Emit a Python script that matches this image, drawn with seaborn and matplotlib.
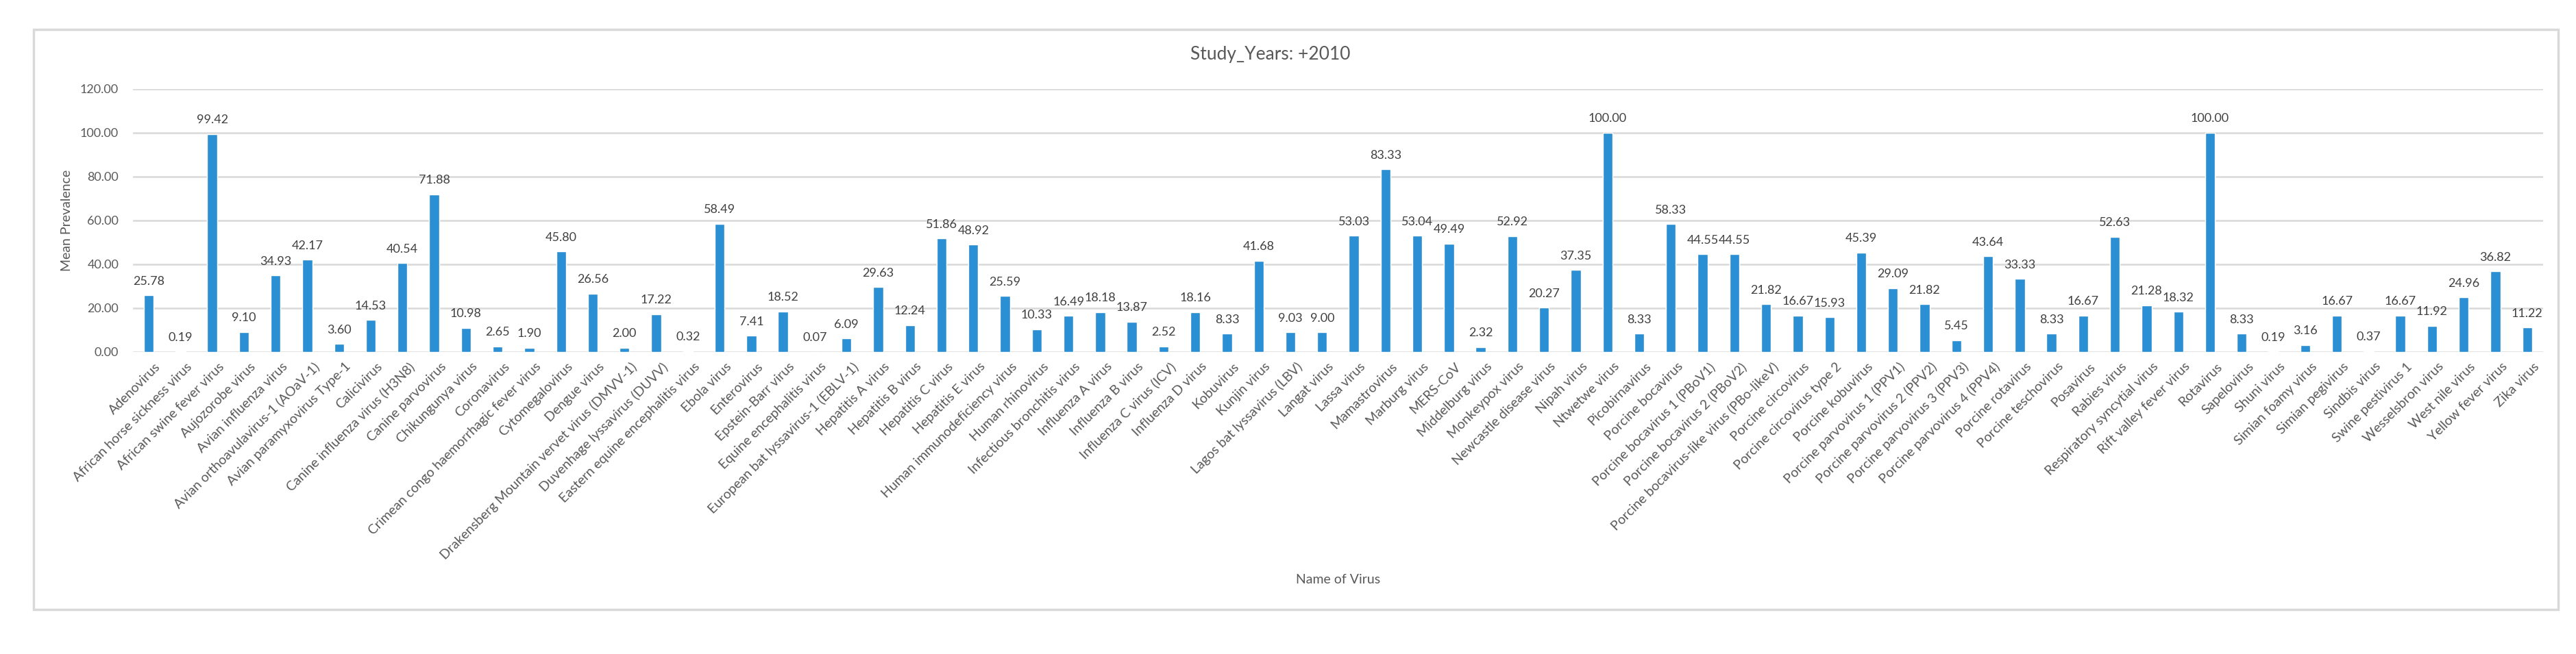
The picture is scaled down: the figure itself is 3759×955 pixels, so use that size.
import matplotlib
matplotlib.use("Agg")
import matplotlib.pyplot as plt
import matplotlib.transforms as mtrans
import seaborn as sns
import pandas as pd
from matplotlib.patches import Rectangle

viruses = [
    "Adenovirus", "African horse sickness virus", "African swine fever virus",
    "Aujozorobe virus", "Avian influenza virus", "Avian orthoavulavirus-1 (AOaV-1)",
    "Avian paramyxovirus Type-1", "Calicivirus", "Canine influenza virus (H3N8)",
    "Canine parvovirus", "Chikungunya virus", "Coronavirus",
    "Crimean congo haemorrhagic fever virus", "Cytomegalovirus", "Dengue virus",
    "Drakensberg Mountain vervet virus (DMVV-1)", "Duvenhage lyssavirus (DUVV)",
    "Eastern equine encephalitis virus", "Ebola virus", "Enterovirus",
    "Epstein-Barr virus", "Equine encephalitis virus",
    "European bat lyssavirus-1 (EBLV-1)", "Hepatitis A virus", "Hepatitis B virus",
    "Hepatitis C virus", "Hepatitis E virus", "Human immunodeficiency virus",
    "Human rhinovirus", "Infectious bronchitis virus", "Influenza A virus",
    "Influenza B virus", "Influenza C virus (ICV)", "Influenza D virus", "Kobuvirus",
    "Kunjin virus", "Lagos bat lyssavirus (LBV)", "Langat virus", "Lassa virus",
    "Mamastrovirus", "Marburg virus", "MERS-CoV", "Middelburg virus",
    "Monkeypox virus", "Newcastle disease virus", "Nipah virus", "Ntwetwe virus",
    "Picobirnavirus", "Porcine bocavirus", "Porcine bocavirus 1 (PBoV1)",
    "Porcine bocavirus 2 (PBoV2)", "Porcine bocavirus-like virus (PBo-likeV)",
    "Porcine circovirus", "Porcine circovirus type 2", "Porcine kobuvirus",
    "Porcine parvovirus 1 (PPV1)", "Porcine parvovirus 2 (PPV2)",
    "Porcine parvovirus 3 (PPV3)", "Porcine parvovirus 4 (PPV4)",
    "Porcine rotavirus", "Porcine teschovirus", "Posavirus", "Rabies virus",
    "Respiratory syncytial virus", "Rift valley fever virus", "Rotavirus",
    "Sapelovirus", "Shuni virus", "Simian foamy virus", "Simian pegivirus",
    "Sindbis virus", "Swine pestivirus 1", "Wesselsbron virus", "West nile virus",
    "Yellow fever virus", "Zika virus",
]

prevalence = [
    25.78, 0.19, 99.42, 9.10, 34.93, 42.17, 3.60, 14.53, 40.54, 71.88,
    10.98, 2.65, 1.90, 45.80, 26.56, 2.00, 17.22, 0.32, 58.49, 7.41,
    18.52, 0.07, 6.09, 29.63, 12.24, 51.86, 48.92, 25.59, 10.33, 16.49,
    18.18, 13.87, 2.52, 18.16, 8.33, 41.68, 9.03, 9.00, 53.03, 83.33,
    53.04, 49.49, 2.32, 52.92, 20.27, 37.35, 100.00, 8.33, 58.33, 44.55,
    44.55, 21.82, 16.67, 15.93, 45.39, 29.09, 21.82, 5.45, 43.64, 33.33,
    8.33, 16.67, 52.63, 21.28, 18.32, 100.00, 8.33, 0.19, 3.16, 16.67,
    0.37, 16.67, 11.92, 24.96, 36.82, 11.22,
]

y_ticks = [0, 20, 40, 60, 80, 100, 120]

sns.set_style("white")
plt.rcParams["font.family"] = ["Lato", "DejaVu Sans"]

df = pd.DataFrame({"virus": viruses, "prev": prevalence})

fig = plt.figure(figsize=(37.59, 9.55), dpi=100)
ax = fig.add_axes([0.0516, 0.4618, 0.9356, 0.4021])

sns.barplot(data=df, x="virus", y="prev", color="#2B8FD3", width=0.31,
            saturation=1, ax=ax)

ax.set_ylim(0, 120)
ax.set_yticks(y_ticks)
ax.set_yticklabels([f"{t:.2f}" for t in y_ticks])
ax.yaxis.grid(True, color="#D9D9D9", linewidth=1.8)
ax.set_axisbelow(True)
for s in ax.spines.values():
    s.set_visible(False)

ax.tick_params(axis="y", length=0, pad=15, labelsize=13, labelcolor="#595959")
ax.tick_params(axis="x", length=0, pad=9, labelsize=14, labelcolor="#595959")
# rotated names, nudged a little right so they end under the bar like Excel does
shift = mtrans.ScaledTranslation(6 / 72, 0, fig.dpi_scale_trans)
for lab in ax.get_xticklabels():
    lab.set_rotation(45)
    lab.set_ha("right")
    lab.set_va("top")
    lab.set_rotation_mode("anchor")
    lab.set_transform(lab.get_transform() + shift)

ax.bar_label(ax.containers[0], fmt="%.2f", padding=9, fontsize=13, color="#404040")

ax.set_xlabel("Name of Virus", fontsize=14, color="#595959")
ax.xaxis.set_label_coords(0.5, -0.845)
ax.set_ylabel("Mean Prevalence", fontsize=14, color="#595959")
ax.yaxis.set_label_coords(-0.025, 0.5)

fig.text(1854 / 3759, 1 - 80 / 955, "Study_Years: +2010", fontsize=19,
         color="#595959", ha="center", va="center")

fig.patches.append(Rectangle((0.013, 0.068), 0.980, 0.887, transform=fig.transFigure,
                             fill=False, edgecolor="#D9D9D9", linewidth=2.5))

fig.savefig("out.png", dpi=100, facecolor="white")
